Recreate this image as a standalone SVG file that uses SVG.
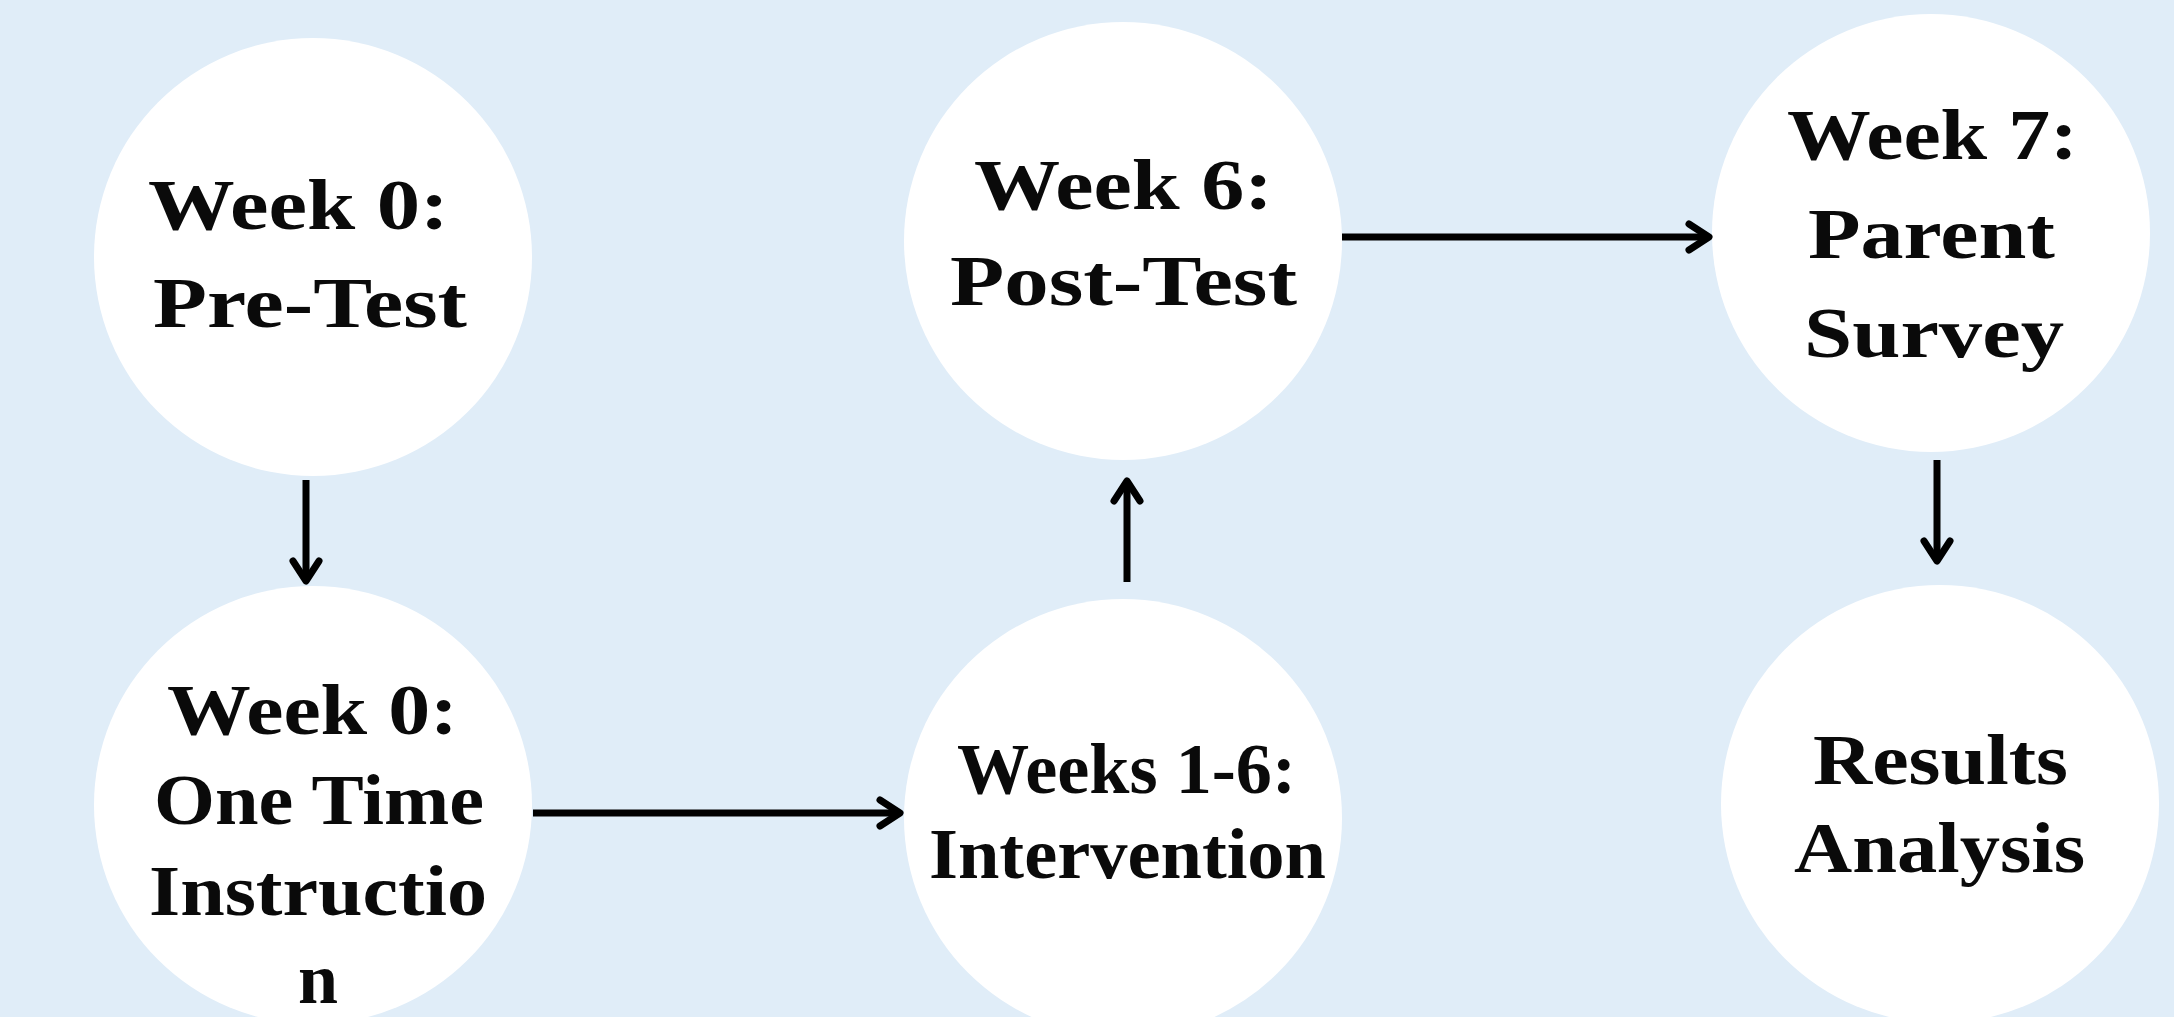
<svg xmlns="http://www.w3.org/2000/svg" width="2174" height="1017" viewBox="0 0 2174 1017">
<defs>
<style>
.node circle{fill:#ffffff;}
.node text{font-family:"Liberation Serif","Times New Roman",serif;font-weight:bold;font-size:72px;fill:#0a0a0a;}
.conn line{stroke:#000;stroke-width:7;fill:none;}
</style>
<marker id="chev" markerUnits="userSpaceOnUse" markerWidth="40" markerHeight="40" refX="0" refY="0" orient="auto" viewBox="-30 -20 40 40" overflow="visible">
<path d="M -20 -13 L 0 0 L -20 13" fill="none" stroke="#000" stroke-width="7" stroke-linecap="round" stroke-linejoin="round"/>
</marker>
</defs>
<rect x="0" y="0" width="2174" height="1017" fill="#e0edf8"/>
<g id="n1" class="node">
<circle cx="313" cy="257" r="219"/>
<text x="148" y="229" textLength="301" lengthAdjust="spacingAndGlyphs">Week 0:</text>
<text x="153" y="327" textLength="314" lengthAdjust="spacingAndGlyphs">Pre-Test</text>
</g>
<g id="n2" class="node">
<circle cx="313" cy="805" r="219"/>
<text x="167" y="734" textLength="291" lengthAdjust="spacingAndGlyphs">Week 0:</text>
<text x="154" y="824" textLength="330" lengthAdjust="spacingAndGlyphs">One Time</text>
<text x="149" y="915" textLength="338" lengthAdjust="spacingAndGlyphs">Instructio</text>
<text x="298" y="1003" textLength="40" lengthAdjust="spacingAndGlyphs">n</text>
</g>
<g id="n3" class="node">
<circle cx="1123" cy="241" r="219"/>
<text x="974" y="209" textLength="299" lengthAdjust="spacingAndGlyphs">Week 6:</text>
<text x="950" y="305" textLength="347" lengthAdjust="spacingAndGlyphs">Post-Test</text>
</g>
<g id="n4" class="node">
<circle cx="1123" cy="818" r="219"/>
<text x="957" y="793" textLength="339" lengthAdjust="spacingAndGlyphs">Weeks 1-6:</text>
<text x="929" y="878" textLength="397" lengthAdjust="spacingAndGlyphs">Intervention</text>
</g>
<g id="n5" class="node">
<circle cx="1931" cy="233" r="219"/>
<text x="1787" y="159" textLength="291" lengthAdjust="spacingAndGlyphs">Week 7:</text>
<text x="1808" y="258" textLength="247" lengthAdjust="spacingAndGlyphs">Parent</text>
<text x="1804" y="357" textLength="260" lengthAdjust="spacingAndGlyphs">Survey</text>
</g>
<g id="n6" class="node">
<circle cx="1940" cy="804" r="219"/>
<text x="1813" y="784" textLength="255" lengthAdjust="spacingAndGlyphs">Results</text>
<text x="1794" y="872" textLength="291" lengthAdjust="spacingAndGlyphs">Analysis</text>
</g>
<g id="connectors" class="conn">
<line x1="306" y1="480" x2="306" y2="581" marker-end="url(#chev)"/>
<line x1="533" y1="813" x2="900" y2="813" marker-end="url(#chev)"/>
<line x1="1127" y1="582" x2="1127" y2="481" marker-end="url(#chev)"/>
<line x1="1342" y1="237" x2="1709" y2="237" marker-end="url(#chev)"/>
<line x1="1937" y1="460" x2="1937" y2="561" marker-end="url(#chev)"/>
</g>
</svg>
